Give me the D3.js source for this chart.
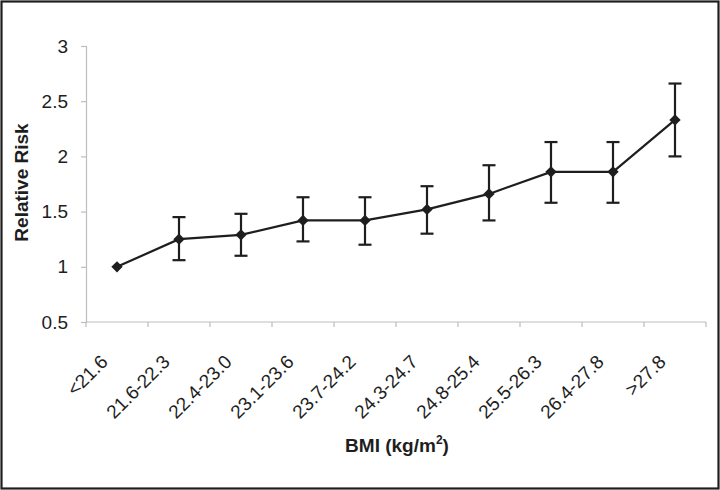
<!DOCTYPE html>
<html>
<head>
<meta charset="utf-8">
<script src="https://cdn.jsdelivr.net/npm/d3@7"></script>
<style>
  html, body { margin: 0; padding: 0; background: #fff; }
  svg { display: block; }
  text { font-family: Arial, "Liberation Sans", Helvetica, sans-serif; fill: #1e1e1e; }
</style>
</head>
<body>
<svg id="chart" width="720" height="490"></svg>
<script>
const categories = ["<21.6", "21.6-22.3", "22.4-23.0", "23.1-23.6", "23.7-24.2", "24.3-24.7", "24.8-25.4", "25.5-26.3", "26.4-27.8", ">27.8"];
const relativeRisk = [1.00, 1.25, 1.29, 1.42, 1.42, 1.52, 1.66, 1.86, 1.86, 2.33];
const ciLower = [null, 1.06, 1.10, 1.23, 1.20, 1.30, 1.42, 1.58, 1.58, 2.00];
const ciUpper = [null, 1.45, 1.48, 1.63, 1.63, 1.73, 1.92, 2.13, 2.13, 2.66];
const yTicks = [0.5, 1, 1.5, 2, 2.5, 3];

(function () {
const svg = d3.select("#chart");
const W = 720, H = 490;
const mLeft = 86, mRight = 706, mTop = 46, mBottom = 322;
const axisColor = "#bdbdbd";
const ink = "#1e1e1e";

// frame
svg.append("rect").attr("x", 1.5).attr("y", 1.5).attr("width", W - 3).attr("height", H - 3)
  .attr("fill", "none").attr("stroke", ink).attr("stroke-width", 2.2);

const x = d3.scaleBand().domain(categories).range([mLeft, mRight]).paddingInner(0).paddingOuter(0);
const y = d3.scaleLinear().domain([0.5, 3]).range([mBottom, mTop]);

// y axis
const yAxis = svg.append("g").attr("transform", `translate(${mLeft},0)`)
  .call(d3.axisLeft(y).tickValues(yTicks).tickFormat(d => String(d)).tickSize(5).tickPadding(13));
yAxis.select(".domain").attr("stroke", axisColor).attr("stroke-width", 1.2);
yAxis.selectAll(".tick line").attr("stroke", axisColor).attr("stroke-width", 1.2);
yAxis.selectAll(".tick text").attr("font-size", 19).attr("fill", ink)
  .style("font-family", "Arial, 'Liberation Sans', sans-serif");

// x axis: ticks at band edges
const xAxisG = svg.append("g");
xAxisG.append("line").attr("x1", mLeft).attr("x2", mRight).attr("y1", mBottom).attr("y2", mBottom)
  .attr("stroke", axisColor).attr("stroke-width", 1.2);
const edges = categories.map(c => x(c)).concat([x(categories[categories.length - 1]) + x.bandwidth()]);
xAxisG.selectAll("line.tk").data(edges).enter().append("line").attr("class", "tk")
  .attr("x1", d => d).attr("x2", d => d).attr("y1", mBottom).attr("y2", mBottom + 5)
  .attr("stroke", axisColor).attr("stroke-width", 1.2);
xAxisG.selectAll("text.lbl").data(categories).enter().append("text").attr("class", "lbl")
  .attr("transform", d => `translate(${x(d) + x.bandwidth() / 2 - 8},${mBottom + 41}) rotate(-45)`)
  .attr("text-anchor", "end").attr("font-size", 19).text(d => d);

// line
const pts = categories.map((c, i) => ({ c, v: relativeRisk[i], lo: ciLower[i], hi: ciUpper[i] }));
const cx = d => x(d.c) + x.bandwidth() / 2;
svg.append("path").datum(pts)
  .attr("d", d3.line().x(cx).y(d => y(d.v)))
  .attr("fill", "none").attr("stroke", ink).attr("stroke-width", 2.2);

// error bars
const eb = pts.filter(d => d.lo != null);
const capW = 6.5;
const ebG = svg.append("g").attr("stroke", ink).attr("stroke-width", 2.2);
ebG.selectAll("line.v").data(eb).enter().append("line")
  .attr("x1", cx).attr("x2", cx).attr("y1", d => y(d.lo)).attr("y2", d => y(d.hi));
ebG.selectAll("line.t").data(eb).enter().append("line")
  .attr("x1", d => cx(d) - capW).attr("x2", d => cx(d) + capW).attr("y1", d => y(d.hi)).attr("y2", d => y(d.hi));
ebG.selectAll("line.b").data(eb).enter().append("line")
  .attr("x1", d => cx(d) - capW).attr("x2", d => cx(d) + capW).attr("y1", d => y(d.lo)).attr("y2", d => y(d.lo));

// markers (diamonds)
svg.selectAll("path.mk").data(pts).enter().append("path").attr("class", "mk")
  .attr("d", d3.symbol().type(d3.symbolSquare).size(64))
  .attr("transform", d => `translate(${cx(d)},${y(d.v)}) rotate(45)`)
  .attr("fill", ink);

// axis titles
svg.append("text").attr("transform", `translate(28,${(122 + 243) / 2}) rotate(-90)`)
  .attr("text-anchor", "middle").attr("font-size", 19).attr("font-weight", "bold").text("Relative Risk");

const t = svg.append("text").attr("x", (mLeft + mRight) / 2 + 1).attr("y", 451.5)
  .attr("text-anchor", "middle").attr("font-size", 19).attr("font-weight", "bold");
t.append("tspan").text("BMI (kg/m");
t.append("tspan").attr("font-size", 12).attr("dy", -8).text("2");
t.append("tspan").attr("dy", 8).text(")");
})();
</script>
</body>
</html>
